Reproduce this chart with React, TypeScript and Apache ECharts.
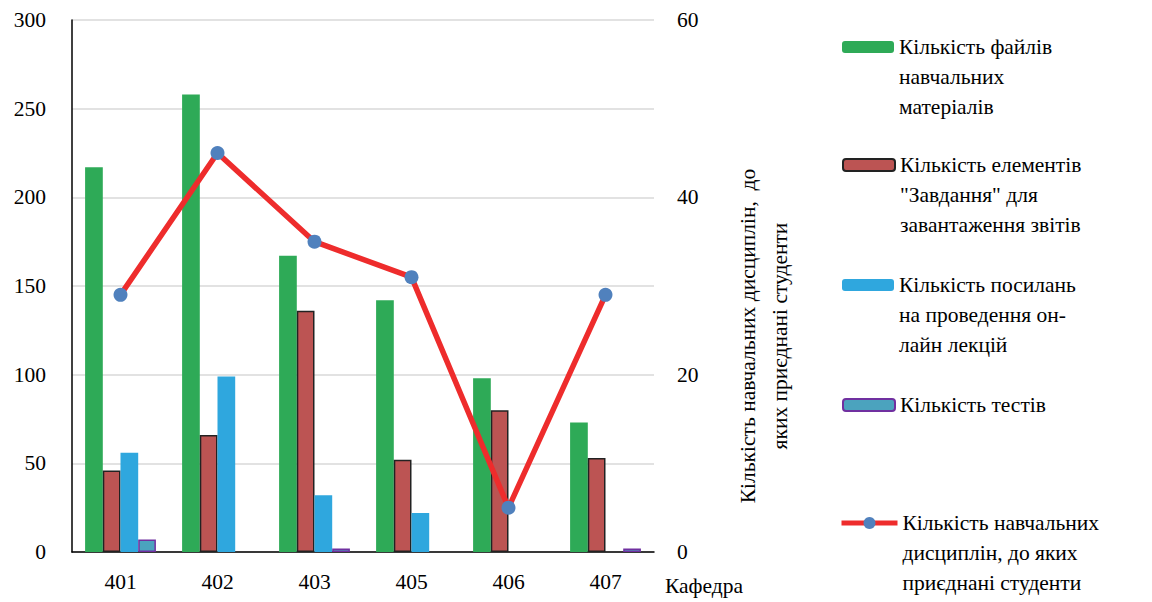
import React, { useEffect, useRef } from "react";
import * as echarts from "echarts";

const categories = ["401", "402", "403", "405", "406", "407"];
const filesCount = [217, 258, 167, 142, 98, 73];
const tasksCount = [46, 66, 136, 52, 80, 53];
const linksCount = [56, 99, 32, 22, null, null];
const testsCount = [7, null, 2, null, null, 2];
const disciplinesCount = [29, 45, 35, 31, 5, 29];

const leftTicks = { min: 0, max: 300, interval: 50 };
const rightTicks = { min: 0, max: 60, interval: 20 };

const seriesNames = [
  "Кількість файлів навчальних матеріалів",
  "Кількість елементів \"Завдання\" для завантаження звітів",
  "Кількість посилань на проведення он-лайн лекцій",
  "Кількість тестів",
  "Кількість навчальних дисциплін, до яких приєднані студенти",
];
const legendLabels = [
  "Кількість файлів\nнавчальних\nматеріалів",
  "Кількість елементів\n\"Завдання\" для\nзавантаження звітів",
  "Кількість посилань\nна проведення он-\nлайн лекцій",
  "Кількість тестів",
  "Кількість навчальних\nдисциплін, до яких\nприєднані студенти",
];
const rightAxisTitle = "Кількість навчальних дисциплін,  до\nяких приєднані студенти";
const xAxisTitle = "Кафедра";

const FONT = "Liberation Serif";
const FS = 21.5;

export default function App() {
  const ref = useRef<HTMLDivElement>(null);
  useEffect(() => {
    document.body.style.margin = "0";
    const chart = echarts.init(ref.current!, null, { renderer: "svg" });
    const legendTops = [-28, 90, 210, 390, 448];
    const legendLines = [3, 3, 3, 1, 3];
    const legends = seriesNames.map((n, i) => ({
      data: [n],
      orient: "vertical",
      left: i === 4 ? 839 : 842,
      top: legendTops[i],
      padding: 0,
      itemWidth: i === 4 ? 56 : 52,
      itemHeight: i === 4 ? 15 : 12,
      selectedMode: false,
      lineStyle: { width: 5 },
      formatter: (name: string) => {
        const label = legendLabels[seriesNames.indexOf(name)];
        return legendLines[i] === 3 ? "\n\n" + label : label;
      },
      textStyle: { fontFamily: FONT, fontSize: FS, color: "#000", lineHeight: 30 },
    }));
    chart.setOption({
      animation: false,
      legend: legends,
      grid: { left: 72, right: 498, top: 20, bottom: 50 },
      xAxis: {
        type: "category",
        data: categories,
        axisLine: { lineStyle: { color: "#000", width: 1.5 } },
        axisTick: { show: false },
        axisLabel: { fontFamily: FONT, fontSize: FS, color: "#000", margin: 19 },
        name: xAxisTitle,
        nameLocation: "end",
        nameGap: 11,
        nameTextStyle: {
          fontFamily: FONT,
          fontSize: FS,
          color: "#000",
          verticalAlign: "top",
          padding: [23, 0, 0, 0],
        },
      },
      yAxis: [
        {
          type: "value",
          ...leftTicks,
          axisLine: { show: true, lineStyle: { color: "#000", width: 1.5 } },
          axisTick: { show: false },
          axisLabel: { fontFamily: FONT, fontSize: FS, color: "#000", margin: 26 },
          splitLine: { lineStyle: { color: "#d9d9d9", width: 1.5 } },
        },
        {
          type: "value",
          ...rightTicks,
          position: "right",
          axisLine: { show: false },
          axisTick: { show: false },
          axisLabel: { fontFamily: FONT, fontSize: FS, color: "#000", margin: 23 },
          splitLine: { show: false },
        },
      ],
      graphic: [
        {
          type: "text",
          x: 764,
          y: 336,
          rotation: Math.PI / 2,
          style: {
            text: rightAxisTitle,
            fontFamily: FONT,
            fontSize: FS,
            fill: "#000",
            align: "center",
            verticalAlign: "middle",
            lineHeight: 32,
          },
        },
      ],
      series: [
        {
          name: seriesNames[0],
          type: "bar",
          data: filesCount,
          barGap: "0%",
          barCategoryGap: "27%",
          itemStyle: { color: "#2EAA57" },
        },
        {
          name: seriesNames[1],
          type: "bar",
          data: tasksCount,
          itemStyle: { color: "#BC5453", borderColor: "#222", borderWidth: 1.5 },
        },
        {
          name: seriesNames[2],
          type: "bar",
          data: linksCount,
          itemStyle: { color: "#2FA7DE" },
        },
        {
          name: seriesNames[3],
          type: "bar",
          data: testsCount,
          itemStyle: { color: "#4BA3BE", borderColor: "#7030A0", borderWidth: 1.5 },
        },
        {
          name: seriesNames[4],
          type: "line",
          yAxisIndex: 1,
          data: disciplinesCount,
          z: 5,
          symbol: "circle",
          symbolSize: 14,
          lineStyle: { color: "#EE2C2C", width: 5.5 },
          itemStyle: { color: "#5081BD" },
        },
      ],
    });
    return () => chart.dispose();
  }, []);
  return <div ref={ref} style={{ width: 1152, height: 602 }} />;
}
